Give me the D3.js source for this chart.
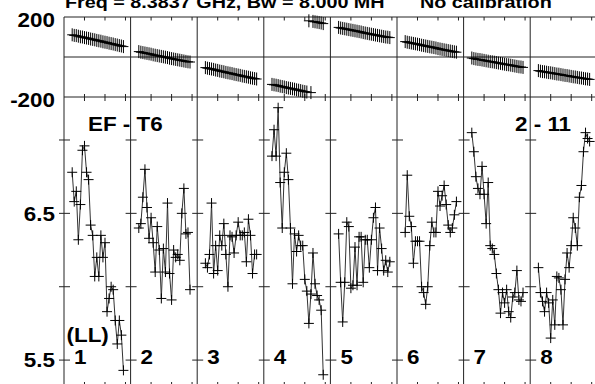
<!DOCTYPE html>
<html><head><meta charset="utf-8">
<script src="https://cdn.jsdelivr.net/npm/d3@7"></script>
<style>
html,body{margin:0;padding:0;background:#fff;overflow:hidden}
text{font-family:"Liberation Sans",Arial,Helvetica,sans-serif;font-weight:bold;fill:#000}
</style></head>
<body><svg id="c" width="595" height="384"></svg>
<script>
// ---- data ----
const titleLeft = "Freq = 8.3837 GHz, Bw = 8.000 MH";
const titleRight = "No calibration";
const baselineLabel = "EF - T6";
const sourceLabel = "2 - 11";
const polLabel = "(LL)";
const ifNames = ["1","2","3","4","5","6","7","8"];
const channels = [4,5,6,7,8,9,10,11,12,13,14,15,16,17,18,19,20,21,22,23,24,25,26,27,28,29];
const chanTicks = [10,20,30];
const ampTicks = [5.5,6.0,6.5,7.0];
const ampTickLabels = [{v:5.5,t:"5.5"},{v:6.5,t:"6.5"}];
const phaseTickLabels = [{v:200,t:"200"},{v:-200,t:"-200"}];

const amp1 = [6.78,6.58,6.65,6.32,6.56,6.93,6.96,6.78,6.73,6.42,6.35,6.07,6.20,6.07,6.35,6.20,6.30,5.83,5.92,6.00,5.98,5.77,5.61,5.77,5.67,5.43];
const amp2 = [6.40,6.43,6.61,6.80,6.54,6.33,6.47,6.30,6.10,6.41,6.25,5.92,6.26,6.10,6.57,6.09,5.91,6.25,6.20,6.22,6.18,6.50,6.67,6.36,6.37,5.98];
const amp3 = [6.16,6.13,6.22,6.57,6.09,6.28,6.11,6.35,6.28,6.43,6.22,6.00,6.35,6.34,6.23,6.35,6.44,6.35,6.35,6.37,6.17,6.46,6.35,6.09,6.22,6.22];
const amp4 = [6.89,7.07,6.89,7.22,6.71,6.40,6.78,6.91,6.73,6.40,6.02,6.36,6.24,6.35,6.28,6.28,6.05,5.97,5.75,5.95,6.23,6.02,5.94,5.91,5.84,5.40];
const amp5 = [6.36,6.03,5.76,6.03,6.44,6.41,5.99,6.01,6.27,6.01,6.34,6.34,6.03,6.32,6.32,6.13,6.32,6.47,6.54,6.11,6.40,6.26,6.11,6.18,6.10,6.17];
const amp6 = [6.37,6.76,6.48,6.41,6.16,6.31,6.31,6.31,6.00,5.96,5.88,6.00,6.28,6.44,6.37,6.37,6.65,6.55,6.62,6.69,6.56,6.42,6.37,6.40,6.49,6.58];
const amp7 = [7.05,6.92,6.75,6.67,6.63,6.82,6.63,6.43,6.71,6.28,6.26,6.22,6.09,5.98,5.82,5.96,5.89,5.98,5.83,5.79,5.93,5.96,6.11,5.91,5.90,5.96];
const amp8 = [6.13,5.96,5.90,5.83,5.96,5.89,5.65,5.91,5.74,6.07,6.06,5.98,5.74,6.05,6.23,6.13,6.28,6.47,6.40,6.28,6.61,6.69,6.92,7.05,7.01,6.99];

const ph1 = [111,108,107,104,101,100,97,95,93,90,88,86,83,81,79,76,74,72,69,67,65,62,60,57,55,52];
const ph2 = [27,24,22,20,18,16,14,11,9,7,5,3,1,-1,-3,-6,-8,-10,-12,-14,-16,-18,-20,-22,-24,-25];
const ph3 = [-53,-56,-58,-60,-62,-65,-67,-70,-72,-74,-77,-79,-81,-83,-86,-88,-90,-92,-95,-97,-99,-101,-104,-106,-108,-110];
const ph4 = [-137,-139,-141,-143,-146,-148,-150,-153,-155,-157,-159,-161,-164,-166,-168,-171,-173,-175,181,-178,178,176,174,172,170,167];
const ph5 = [148,145,143,141,139,137,135,133,131,129,127,125,122,120,118,116,114,112,110,108,106,104,102,100,99,97];
const ph6 = [77,74,72,70,68,66,64,62,59,57,55,53,51,49,47,45,42,40,38,36,34,32,30,28,26,24];
const ph7 = [-5,-8,-10,-12,-13,-15,-17,-19,-21,-23,-24,-26,-28,-30,-32,-34,-36,-38,-39,-41,-43,-45,-47,-49,-50,-52];
const ph8 = [-68,-71,-73,-74,-76,-78,-79,-81,-83,-85,-86,-88,-90,-92,-93,-95,-97,-99,-100,-102,-104,-105,-107,-109,-110,-112];

const amps = [amp1,amp2,amp3,amp4,amp5,amp6,amp7,amp8];
const phases = [ph1,ph2,ph3,ph4,ph5,ph6,ph7,ph8];

// ---- layout ----
const svg = d3.select("#c");
const L = 64, R = 596.8, T = 17, M = 97, B = 387;
const panelX = d3.scaleBand().domain(ifNames).range([L, R]).paddingInner(0).paddingOuter(0);
const yPh = d3.scaleLinear().domain([-200,200]).range([M, T]);
const yAmp = d3.scaleLinear().domain([5.32, 7.293]).range([386.5, M]);
const SX = 1.15, FS = 19.5;

function label(x, y, txt, anchor, fs) {
  const g = svg.append("g").attr("transform", `translate(${x},${y}) scale(${SX},1)`);
  g.append("text").attr("text-anchor", anchor || "start").style("font-size", (fs||FS) + "px").text(txt);
}

const frame = svg.append("g").attr("stroke", "#222").attr("stroke-width", 1).attr("fill", "none");
// horizontal frame lines
[T, yPh(0), M].forEach(y => frame.append("line").attr("x1", L).attr("x2", R).attr("y1", y).attr("y2", y));
// vertical panel borders
ifNames.forEach(n => frame.append("line").attr("x1", panelX(n)).attr("x2", panelX(n)).attr("y1", T).attr("y2", B));
frame.append("line").attr("x1", R).attr("x2", R).attr("y1", T).attr("y2", B);

ifNames.forEach((n, i) => {
  const x0 = panelX(n);
  const x = d3.scaleLinear().domain([0, 32.5]).range([x0, x0 + panelX.bandwidth()]);
  const tg = svg.append("g").attr("stroke", "#222").attr("stroke-width", 1);
  // channel ticks
  chanTicks.forEach(c => {
    tg.append("line").attr("x1", x(c)).attr("x2", x(c)).attr("y1", T).attr("y2", T + 3.5);
    tg.append("line").attr("x1", x(c)).attr("x2", x(c)).attr("y1", M - 3).attr("y2", M + 4);
    tg.append("line").attr("x1", x(c)).attr("x2", x(c)).attr("y1", B - 5).attr("y2", B + 5);
  });
  // amplitude ticks on the panel border
  ampTicks.forEach(v => {
    tg.append("line").attr("x1", x0 - 5).attr("x2", x0 + 6).attr("y1", yAmp(v)).attr("y2", yAmp(v));
  });

  // phase
  const ph = phases[i];
  const pts = channels.map((c, k) => [x(c), yPh(ph[k])]);
  const segs = [];
  let cur = [pts[0]];
  for (let k = 1; k < pts.length; k++) {
    if (Math.abs(ph[k] - ph[k-1]) > 180) { segs.push(cur); cur = []; }
    cur.push(pts[k]);
  }
  segs.push(cur);
  const line = d3.line();
  segs.forEach(s => { if (s.length > 1) svg.append("path").attr("d", line(s)).attr("fill","none").attr("stroke","#000").attr("stroke-width",1); });
  svg.append("path").attr("fill","none").attr("stroke","#000").attr("stroke-width",1)
    .attr("d", pts.map(p => `M${p[0]-5},${p[1]}H${p[0]+5}M${p[0]},${p[1]-6.5}V${p[1]+6.5}`).join(""));

  // amplitude
  const am = amps[i];
  const apts = channels.map((c, k) => [x(c), yAmp(am[k])]);
  svg.append("path").attr("d", line(apts)).attr("fill","none").attr("stroke","#333").attr("stroke-width",1);
  svg.append("path").attr("fill","none").attr("stroke","#000").attr("stroke-width",1)
    .attr("d", apts.map(p => `M${p[0]-5},${p[1]}H${p[0]+5}M${p[0]},${p[1]-5}V${p[1]+5}`).join(""));

  // IF number
  label(x0 + 10, 364, n, "start");
});
// left frame tick at amp
// axis labels
label(55, 26.7, phaseTickLabels[0].t, "end");
label(55, 106.5, phaseTickLabels[1].t, "end");
ampTickLabels.forEach(d => label(55, yAmp(d.v) + 7.2, d.t, "end"));

label(88, 130.7, baselineLabel, "start");
label(515, 130.7, sourceLabel, "start");
label(66.5, 341.5, polLabel, "start");
label(65, 8, titleLeft, "start", 17.2);
label(420, 8, titleRight, "start", 17.2);
</script></body></html>
